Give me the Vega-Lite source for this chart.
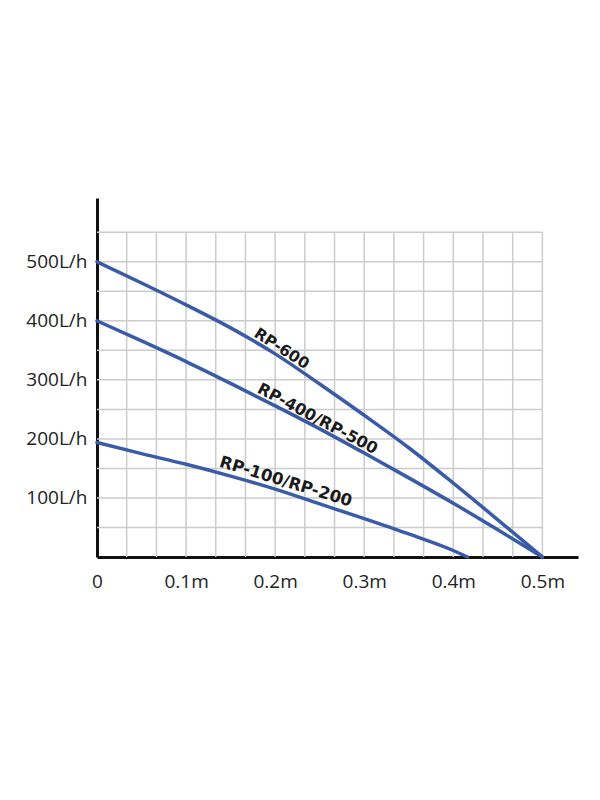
{
  "$schema": "https://vega.github.io/schema/vega-lite/v6.json",
  "width": 481,
  "height": 359,
  "autosize": {"type": "none"},
  "padding": {"left": 97, "top": 198, "right": 22, "bottom": 243},
  "background": "white",
  "config": {
    "view": {"stroke": null},
    "axis": {
      "grid": false,
      "ticks": false,
      "domainColor": "#111111",
      "domainWidth": 3,
      "labelFont": "Open Sans",
      "labelFontSize": 19,
      "labelColor": "#222222",
      "labelOverlap": false,
      "title": null,
      "zindex": 1
    },
    "axisX": {"labelPadding": 15, "labelFlush": false},
    "axisY": {"labelPadding": 10}
  },
  "datasets": {
    "curves": [
      {"model": "RP-600", "m": 0, "flow": 500},
      {"model": "RP-600", "m": 0.05, "flow": 464},
      {"model": "RP-600", "m": 0.1, "flow": 427},
      {"model": "RP-600", "m": 0.15, "flow": 388},
      {"model": "RP-600", "m": 0.2, "flow": 344},
      {"model": "RP-600", "m": 0.25, "flow": 293},
      {"model": "RP-600", "m": 0.3, "flow": 240},
      {"model": "RP-600", "m": 0.35, "flow": 185},
      {"model": "RP-600", "m": 0.4, "flow": 125},
      {"model": "RP-600", "m": 0.45, "flow": 63},
      {"model": "RP-600", "m": 0.5, "flow": 0},
      {"model": "RP-400/RP-500", "m": 0, "flow": 400},
      {"model": "RP-400/RP-500", "m": 0.05, "flow": 366},
      {"model": "RP-400/RP-500", "m": 0.1, "flow": 331},
      {"model": "RP-400/RP-500", "m": 0.15, "flow": 294},
      {"model": "RP-400/RP-500", "m": 0.2, "flow": 256},
      {"model": "RP-400/RP-500", "m": 0.25, "flow": 217},
      {"model": "RP-400/RP-500", "m": 0.3, "flow": 176},
      {"model": "RP-400/RP-500", "m": 0.35, "flow": 134},
      {"model": "RP-400/RP-500", "m": 0.4, "flow": 91},
      {"model": "RP-400/RP-500", "m": 0.45, "flow": 46},
      {"model": "RP-400/RP-500", "m": 0.5, "flow": 0},
      {"model": "RP-100/RP-200", "m": 0, "flow": 194},
      {"model": "RP-100/RP-200", "m": 0.05, "flow": 175},
      {"model": "RP-100/RP-200", "m": 0.1, "flow": 157},
      {"model": "RP-100/RP-200", "m": 0.15, "flow": 137},
      {"model": "RP-100/RP-200", "m": 0.2, "flow": 115},
      {"model": "RP-100/RP-200", "m": 0.25, "flow": 90},
      {"model": "RP-100/RP-200", "m": 0.3, "flow": 65},
      {"model": "RP-100/RP-200", "m": 0.35, "flow": 39},
      {"model": "RP-100/RP-200", "m": 0.4, "flow": 11},
      {"model": "RP-100/RP-200", "m": 0.416, "flow": 0}
    ],
    "vgrid": [
      {"gx": 0.03333}, {"gx": 0.06667}, {"gx": 0.1}, {"gx": 0.13333}, {"gx": 0.16667},
      {"gx": 0.2}, {"gx": 0.23333}, {"gx": 0.26667}, {"gx": 0.3}, {"gx": 0.33333},
      {"gx": 0.36667}, {"gx": 0.4}, {"gx": 0.43333}, {"gx": 0.46667}, {"gx": 0.5}
    ],
    "hgrid": [
      {"gy": 50}, {"gy": 100}, {"gy": 150}, {"gy": 200}, {"gy": 250}, {"gy": 300},
      {"gy": 350}, {"gy": 400}, {"gy": 450}, {"gy": 500}, {"gy": 550}
    ],
    "labels": [
      {"label": "RP-600", "lx": 0.2074, "ly": 353},
      {"label": "RP-400/RP-500", "lx": 0.2476, "ly": 234},
      {"label": "RP-100/RP-200", "lx": 0.2119, "ly": 127.5}
    ]
  },
  "layer": [
    {
      "data": {"name": "vgrid"},
      "mark": {"type": "rule", "color": "#cccccc", "strokeWidth": 1.5},
      "encoding": {
        "x": {"field": "gx", "type": "quantitative", "scale": {"domain": [0, 0.54], "nice": false, "zero": false},
          "axis": {"values": [0, 0.1, 0.2, 0.3, 0.4, 0.5], "labelExpr": "datum.value == 0 ? '0' : format(datum.value, '.1f') + 'm'", "title": null}},
        "y": {"datum": 0, "type": "quantitative", "scale": {"domain": [0, 608], "nice": false, "zero": false},
          "axis": {"values": [100, 200, 300, 400, 500], "labelExpr": "datum.value + 'L/h'", "title": null}},
        "y2": {"datum": 550}
      }
    },
    {
      "data": {"name": "hgrid"},
      "mark": {"type": "rule", "color": "#cccccc", "strokeWidth": 1.5},
      "encoding": {
        "y": {"field": "gy", "type": "quantitative", "scale": {"domain": [0, 608], "nice": false, "zero": false},
          "axis": {"values": [100, 200, 300, 400, 500], "labelExpr": "datum.value + 'L/h'", "title": null}},
        "x": {"datum": 0, "type": "quantitative", "scale": {"domain": [0, 0.54], "nice": false, "zero": false},
          "axis": {"values": [0, 0.1, 0.2, 0.3, 0.4, 0.5], "labelExpr": "datum.value == 0 ? '0' : format(datum.value, '.1f') + 'm'", "title": null}},
        "x2": {"datum": 0.5}
      }
    },
    {
      "data": {"name": "curves"},
      "mark": {"type": "line", "color": "#3a5ba8", "strokeWidth": 3.5, "interpolate": "monotone", "strokeCap": "round"},
      "encoding": {
        "x": {"field": "m", "type": "quantitative", "scale": {"domain": [0, 0.54], "nice": false, "zero": false},
          "axis": {"values": [0, 0.1, 0.2, 0.3, 0.4, 0.5], "labelExpr": "datum.value == 0 ? '0' : format(datum.value, '.1f') + 'm'", "title": null}},
        "y": {"field": "flow", "type": "quantitative", "scale": {"domain": [0, 608], "nice": false, "zero": false},
          "axis": {"values": [100, 200, 300, 400, 500], "labelExpr": "datum.value + 'L/h'", "title": null}},
        "detail": {"field": "model"}
      }
    },
    {
      "data": {"name": "labels"},
      "transform": [{"filter": "datum.label == 'RP-600'"}],
      "mark": {"type": "text", "font": "DejaVu Sans", "fontWeight": "bold", "fontSize": 15.5, "color": "#1a1a1a", "angle": 33, "align": "center", "baseline": "middle"},
      "encoding": {
        "x": {"field": "lx", "type": "quantitative", "scale": {"domain": [0, 0.54], "nice": false, "zero": false},
          "axis": {"values": [0, 0.1, 0.2, 0.3, 0.4, 0.5], "labelExpr": "datum.value == 0 ? '0' : format(datum.value, '.1f') + 'm'", "title": null}},
        "y": {"field": "ly", "type": "quantitative", "scale": {"domain": [0, 608], "nice": false, "zero": false},
          "axis": {"values": [100, 200, 300, 400, 500], "labelExpr": "datum.value + 'L/h'", "title": null}},
        "text": {"field": "label"}
      }
    },
    {
      "data": {"name": "labels"},
      "transform": [{"filter": "datum.label == 'RP-400/RP-500'"}],
      "mark": {"type": "text", "font": "DejaVu Sans", "fontWeight": "bold", "fontSize": 16, "color": "#1a1a1a", "angle": 28, "align": "center", "baseline": "middle"},
      "encoding": {
        "x": {"field": "lx", "type": "quantitative", "scale": {"domain": [0, 0.54], "nice": false, "zero": false},
          "axis": {"values": [0, 0.1, 0.2, 0.3, 0.4, 0.5], "labelExpr": "datum.value == 0 ? '0' : format(datum.value, '.1f') + 'm'", "title": null}},
        "y": {"field": "ly", "type": "quantitative", "scale": {"domain": [0, 608], "nice": false, "zero": false},
          "axis": {"values": [100, 200, 300, 400, 500], "labelExpr": "datum.value + 'L/h'", "title": null}},
        "text": {"field": "label"}
      }
    },
    {
      "data": {"name": "labels"},
      "transform": [{"filter": "datum.label == 'RP-100/RP-200'"}],
      "mark": {"type": "text", "font": "DejaVu Sans", "fontWeight": "bold", "fontSize": 16.5, "color": "#1a1a1a", "angle": 17, "align": "center", "baseline": "middle"},
      "encoding": {
        "x": {"field": "lx", "type": "quantitative", "scale": {"domain": [0, 0.54], "nice": false, "zero": false},
          "axis": {"values": [0, 0.1, 0.2, 0.3, 0.4, 0.5], "labelExpr": "datum.value == 0 ? '0' : format(datum.value, '.1f') + 'm'", "title": null}},
        "y": {"field": "ly", "type": "quantitative", "scale": {"domain": [0, 608], "nice": false, "zero": false},
          "axis": {"values": [100, 200, 300, 400, 500], "labelExpr": "datum.value + 'L/h'", "title": null}},
        "text": {"field": "label"}
      }
    }
  ]
}
